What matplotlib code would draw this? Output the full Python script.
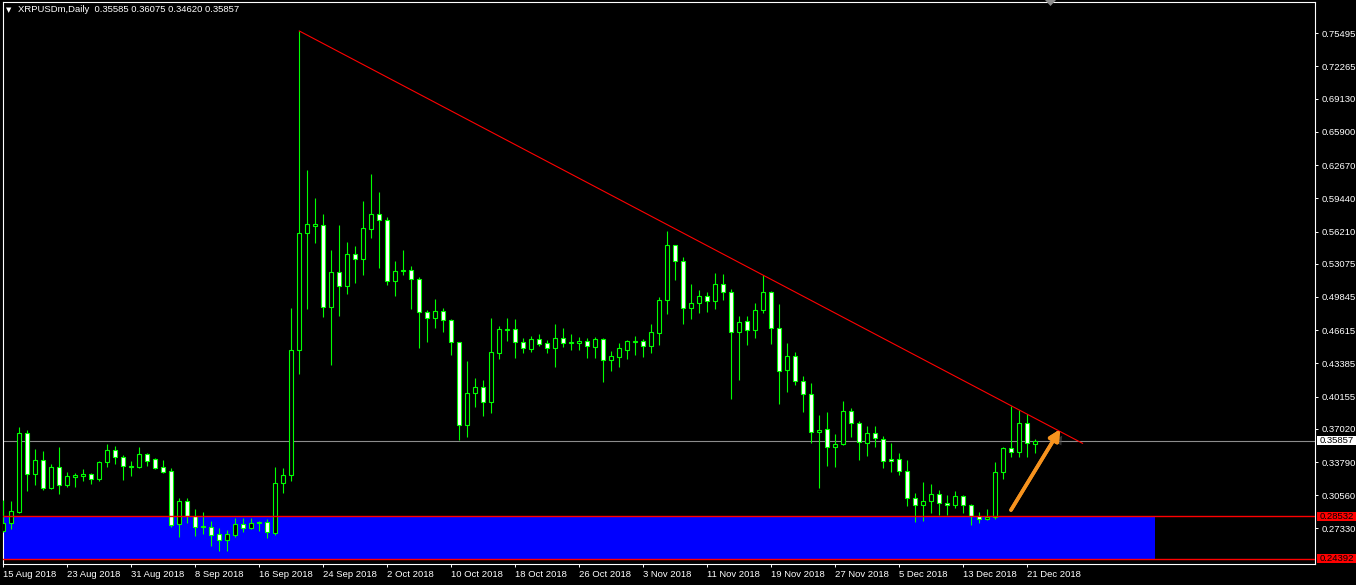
import numpy as np
import pandas as pd
import matplotlib
matplotlib.use("Agg")
import matplotlib.pyplot as plt
from matplotlib.patches import Rectangle, Polygon
from matplotlib.transforms import blended_transform_factory
import matplotlib.patheffects as pe

plt.rcParams['font.family'] = ['Liberation Sans', 'DejaVu Sans']

# XRPUSDm daily candles, 15 Aug 2018 - 22 Dec 2018
symbol = "XRPUSDm,Daily"
start_date = "2018-08-15"

opens = [0.2708, 0.2783, 0.2896, 0.3658, 0.3259, 0.3402, 0.3129, 0.3328, 0.3158, 0.3236,
         0.3246, 0.3259, 0.3217, 0.3376, 0.3493, 0.3425, 0.3333, 0.3333, 0.3454, 0.3405,
         0.3328, 0.3289, 0.2773, 0.3000, 0.2851, 0.2744, 0.2744, 0.2676, 0.2617, 0.2672,
         0.2773, 0.2740, 0.2783, 0.2793, 0.2691, 0.3172, 0.3250, 0.4466, 0.5604, 0.5678,
         0.5682, 0.4884, 0.5225, 0.5094, 0.5400, 0.5357, 0.5649, 0.5789, 0.5730, 0.5137,
         0.5234, 0.5244, 0.5156, 0.4835, 0.4783, 0.4845, 0.4758, 0.4543, 0.3736, 0.4055,
         0.4106, 0.3966, 0.4442, 0.4666, 0.4670, 0.4543, 0.4481, 0.4573, 0.4534, 0.4491,
         0.4582, 0.4534, 0.4539, 0.4553, 0.4501, 0.4573, 0.4368, 0.4403, 0.4471, 0.4549,
         0.4553, 0.4510, 0.4637, 0.4952, 0.5487, 0.5331, 0.4874, 0.4923, 0.4991, 0.4942,
         0.5108, 0.5030, 0.4641, 0.4748, 0.4660, 0.4855, 0.5030, 0.4680, 0.4271, 0.4407,
         0.4164, 0.4038, 0.3668, 0.3697, 0.3522, 0.3551, 0.3872, 0.3756, 0.3561, 0.3658,
         0.3600, 0.3405, 0.3405, 0.3289, 0.3026, 0.2958, 0.2997, 0.3065, 0.2977, 0.2958,
         0.3045, 0.2958, 0.2851, 0.2822, 0.2841, 0.3279, 0.3512, 0.3473, 0.3756, 0.35585]

highs = [0.3009, 0.2999, 0.3720, 0.3690, 0.3503, 0.3486, 0.3360, 0.3525, 0.3282, 0.3272,
         0.3311, 0.3269, 0.3389, 0.3554, 0.3535, 0.3444, 0.3389, 0.3525, 0.3467, 0.3415,
         0.3399, 0.3318, 0.3029, 0.3029, 0.2922, 0.2893, 0.2805, 0.2737, 0.2715, 0.2834,
         0.2834, 0.2834, 0.2808, 0.2824, 0.3330, 0.3321, 0.4877, 0.7575, 0.6220, 0.5947,
         0.5792, 0.5441, 0.5685, 0.5516, 0.5480, 0.5918, 0.6181, 0.6006, 0.5760, 0.5334,
         0.5441, 0.5286, 0.5179, 0.4858, 0.4965, 0.4877, 0.4770, 0.4550, 0.4362, 0.4196,
         0.4177, 0.4780, 0.4702, 0.4780, 0.4770, 0.4588, 0.4605, 0.4621, 0.4563, 0.4722,
         0.4683, 0.4624, 0.4595, 0.4585, 0.4592, 0.4582, 0.4459, 0.4540, 0.4563, 0.4605,
         0.4576, 0.4719, 0.4981, 0.5623, 0.5490, 0.5370, 0.5108, 0.5052, 0.5030, 0.5215,
         0.5205, 0.5059, 0.4796, 0.4796, 0.4923, 0.5195, 0.5040, 0.4916, 0.4534, 0.4446,
         0.4213, 0.4145, 0.3833, 0.3862, 0.3649, 0.3970, 0.3904, 0.3775, 0.3729, 0.3729,
         0.3629, 0.3564, 0.3467, 0.3399, 0.3077, 0.3184, 0.3165, 0.3107, 0.3058, 0.3097,
         0.3055, 0.2968, 0.2890, 0.2919, 0.3376, 0.3522, 0.3921, 0.3882, 0.3843, 0.36075]

lows = [0.2701, 0.2730, 0.2886, 0.3100, 0.3155, 0.3110, 0.3119, 0.3071, 0.3139, 0.3139,
        0.3197, 0.3168, 0.3197, 0.3333, 0.3363, 0.3207, 0.3246, 0.3323, 0.3343, 0.3314,
        0.3269, 0.2750, 0.2652, 0.2789, 0.2662, 0.2682, 0.2565, 0.2516, 0.2516, 0.2652,
        0.2701, 0.2727, 0.2711, 0.2643, 0.2672, 0.3080, 0.3197, 0.4238, 0.4870, 0.5512,
        0.4793, 0.4326, 0.4802, 0.5016, 0.5123, 0.5201, 0.5561, 0.5269, 0.5104, 0.4997,
        0.5198, 0.4870, 0.4491, 0.4549, 0.4685, 0.4647, 0.4423, 0.3596, 0.3619, 0.3917,
        0.3830, 0.3859, 0.4384, 0.4559, 0.4394, 0.4442, 0.4452, 0.4510, 0.4442, 0.4306,
        0.4498, 0.4471, 0.4471, 0.4394, 0.4394, 0.4157, 0.4267, 0.4306, 0.4384, 0.4423,
        0.4403, 0.4442, 0.4520, 0.4822, 0.5152, 0.4724, 0.4773, 0.4831, 0.4841, 0.4870,
        0.4958, 0.3995, 0.4180, 0.4520, 0.4588, 0.4831, 0.4530, 0.3946, 0.4063, 0.4131,
        0.3868, 0.3561, 0.3129, 0.3343, 0.3333, 0.3545, 0.3625, 0.3401, 0.3440, 0.3528,
        0.3321, 0.3285, 0.3256, 0.2954, 0.2798, 0.2808, 0.2883, 0.2866, 0.2866, 0.2927,
        0.2880, 0.2769, 0.2783, 0.2812, 0.2822, 0.3211, 0.3425, 0.3425, 0.3425, 0.34620]

closes = [0.2783, 0.2900, 0.3658, 0.3259, 0.3396, 0.3129, 0.3328, 0.3158, 0.3240, 0.3253,
          0.3265, 0.3217, 0.3379, 0.3496, 0.3425, 0.3337, 0.3343, 0.3457, 0.3392, 0.3323,
          0.3285, 0.2769, 0.3000, 0.2851, 0.2750, 0.2753, 0.2672, 0.2617, 0.2676, 0.2773,
          0.2740, 0.2783, 0.2793, 0.2695, 0.3172, 0.3250, 0.4466, 0.5604, 0.5691, 0.5691,
          0.4884, 0.5225, 0.5094, 0.5400, 0.5357, 0.5653, 0.5789, 0.5730, 0.5137, 0.5234,
          0.5247, 0.5156, 0.4835, 0.4777, 0.4845, 0.4758, 0.4543, 0.3736, 0.4047, 0.4106,
          0.3966, 0.4446, 0.4670, 0.4673, 0.4543, 0.4485, 0.4573, 0.4530, 0.4491, 0.4582,
          0.4534, 0.4546, 0.4553, 0.4504, 0.4573, 0.4368, 0.4407, 0.4485, 0.4553, 0.4553,
          0.4510, 0.4641, 0.4952, 0.5487, 0.5331, 0.4874, 0.4923, 0.4991, 0.4942, 0.5108,
          0.5030, 0.4641, 0.4738, 0.4660, 0.4855, 0.5030, 0.4680, 0.4261, 0.4407, 0.4164,
          0.4038, 0.3668, 0.3687, 0.3522, 0.3551, 0.3872, 0.3756, 0.3571, 0.3658, 0.3610,
          0.3386, 0.3386, 0.3289, 0.3026, 0.2958, 0.2997, 0.3065, 0.2977, 0.2958, 0.3045,
          0.2958, 0.2851, 0.2822, 0.2841, 0.3279, 0.3512, 0.3473, 0.3756, 0.3561, 0.35857]

price_ticks = [0.75495, 0.72265, 0.69130, 0.65900, 0.62670, 0.59440, 0.56210, 0.53075,
               0.49845, 0.46615, 0.43385, 0.40155, 0.37020, 0.33790, 0.30560, 0.27330]

bid = 0.35857
zone_top = 0.28532
zone_bottom = 0.24392
zone_end = 144          # bar index where the blue zone stops
trend_x = [37, 134.9]   # bar index
trend_y = [0.7572, 0.3561]
arrow_tail = (125.96, 0.2912)
arrow_tip = (132.1, 0.3697)

W, H = 1356, 585
GREEN = '#00ff00'
FS = 6.8

dates = pd.date_range(start_date, periods=len(closes), freq='D')
idx = np.arange(len(closes))

fig = plt.figure(figsize=(W / 100, H / 100), dpi=100, facecolor='black')
ax = fig.add_axes([2.7 / W, 21 / H, 1312.3 / W, 561.7 / H], facecolor='black')
ax.set_xlim(-0.075, 163.96)
ax.set_ylim(0.2387, 0.7851)

# support zone + horizontal lines
ax.add_patch(Rectangle((-1, zone_bottom), zone_end + 1, zone_top - zone_bottom,
                       facecolor='#0000ff', edgecolor='none', zorder=1))
ax.axhline(bid, color='#8c8c8c', lw=0.8, zorder=2)

# candles
ax.vlines(idx, lows, highs, color=GREEN, lw=0.8, zorder=5)
for i in idx:
    o, c = opens[i], closes[i]
    fill = 'black' if c >= o else 'white'
    ax.add_patch(Rectangle((i - 0.25, min(o, c)), 0.5, abs(c - o),
                           facecolor=fill, edgecolor=GREEN, lw=0.8, zorder=6))

ax.axhline(zone_top, color='red', lw=1, zorder=7)
ax.axhline(zone_bottom, color='red', lw=1, zorder=7)

# trend line
ax.plot(trend_x, trend_y, color='red', lw=0.8, zorder=8)

# orange arrow with a soft shadow
ax.annotate('', xy=arrow_tip, xytext=arrow_tail, zorder=9,
            arrowprops=dict(arrowstyle='-|>', color='#f7931e', lw=2.6, mutation_scale=16,
                            shrinkA=0, shrinkB=0,
                            path_effects=[pe.withSimplePatchShadow(offset=(3, -2), shadow_rgbFace='#555555', alpha=0.6),
                                          pe.Normal()]))

# axes styling
for s in ax.spines.values():
    s.set_color('white')
    s.set_linewidth(0.8)

xt = idx[::8]
ax.set_xticks(xt)
ax.set_xticklabels([f"{d.day} {d.strftime('%b %Y')}" for d in dates[xt]])
ax.tick_params(axis='x', colors='white', length=2.5, width=0.7, pad=1.5, labelsize=FS)
for lbl in ax.get_xticklabels():
    lbl.set_ha('left')

ax.yaxis.tick_right()
ax.set_yticks(price_ticks)
ax.set_yticklabels([f"{v:.5f}" for v in price_ticks])
ax.tick_params(axis='y', colors='white', length=2.5, width=0.7, pad=2.5, labelsize=FS)

# price labels on the scale
tr = blended_transform_factory(fig.transFigure, ax.transData)
box_h = 9 * (0.7851 - 0.2387) / 561.7
for price, bg in [(bid, 'white'), (zone_top, 'red'), (zone_bottom, 'red')]:
    ax.add_patch(Rectangle((1317 / W, price - box_h / 2), 39 / W, box_h, transform=tr,
                           facecolor=bg, edgecolor='none', clip_on=False, zorder=10))
    ax.text(1320 / W, price, f"{price:.5f}", transform=tr, color='black', fontsize=FS,
            va='center', ha='left', clip_on=False, zorder=11)

# header
fig.text(6 / W, 1 - 10 / H, '\u25bc', color='white', fontsize=5, va='center', ha='left',
         family=['DejaVu Sans'])
fig.text(18 / W, 1 - 10 / H,
         f"{symbol}  {opens[-1]:.5f} {highs[-1]:.5f} {lows[-1]:.5f} {closes[-1]:.5f}",
         color='white', fontsize=FS, va='center', ha='left')

# chart shift marker
fig.add_artist(Polygon([[1045 / W, 1.0], [1056 / W, 1.0], [1050.5 / W, 1 - 6 / H]],
                       closed=True, transform=fig.transFigure, facecolor='#8c8c8c',
                       edgecolor='none'))

fig.savefig('out.png', dpi=100, facecolor='black')
